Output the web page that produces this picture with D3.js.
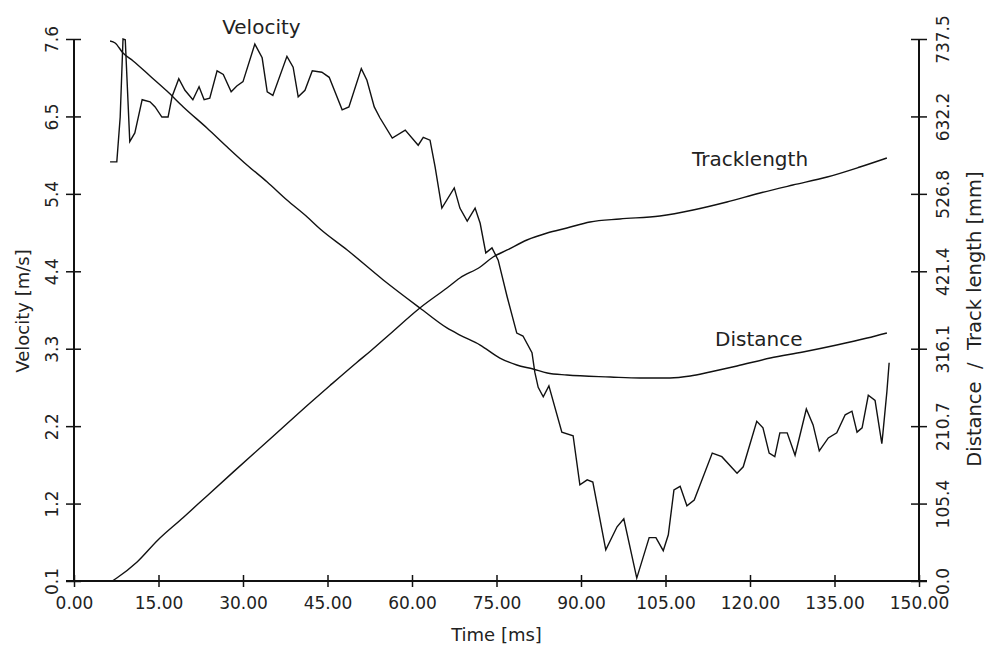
<!DOCTYPE html>
<html>
<head>
<meta charset="utf-8">
<script src="https://cdn.jsdelivr.net/npm/d3@7"></script>
<style>
  body { margin: 0; background: #fff; }
  svg { display: block; }
  text { font-family: "DejaVu Sans", sans-serif; fill: #222; }
</style>
</head>
<body>
<svg id="chart" width="987" height="650"></svg>
<script>
// velocity [m/s]
const velTime = [6.4, 7.6, 8.2, 8.7, 9.1, 9.9, 10.8, 12.1, 13.5, 14.4, 15.6, 16.7, 17.4, 18.6, 19.7, 21.1, 22.2, 23.1, 24.1, 25.4, 26.5, 27.9, 28.9, 30.0, 32.1, 33.4, 34.3, 35.3, 37.8, 38.9, 39.8, 41.0, 42.3, 44.0, 45.3, 47.6, 48.8, 51.0, 52.0, 53.3, 54.3, 56.5, 58.8, 61.1, 62.0, 63.2, 64.1, 65.3, 67.5, 68.5, 69.8, 71.2, 72.1, 73.1, 74.2, 75.3, 76.9, 78.6, 79.7, 81.3, 81.8, 82.4, 83.3, 84.3, 86.6, 88.6, 89.8, 91.1, 92.1, 94.4, 96.4, 97.6, 99.9, 102.1, 103.3, 104.6, 105.5, 106.5, 107.6, 108.8, 110.1, 113.3, 115.0, 117.7, 118.8, 121.2, 122.3, 123.4, 124.4, 125.3, 126.6, 128.0, 130.0, 131.2, 132.3, 133.9, 135.4, 136.9, 138.1, 139.0, 139.9, 141.0, 142.2, 143.4, 143.6, 144.3, 144.7];
const velocity = [5.90, 5.90, 6.52, 7.60, 7.59, 6.18, 6.30, 6.76, 6.73, 6.66, 6.52, 6.52, 6.80, 7.05, 6.89, 6.76, 6.94, 6.76, 6.78, 7.16, 7.11, 6.87, 6.95, 7.01, 7.53, 7.34, 6.87, 6.82, 7.36, 7.21, 6.80, 6.89, 7.16, 7.14, 7.07, 6.62, 6.66, 7.19, 7.03, 6.66, 6.51, 6.23, 6.34, 6.13, 6.24, 6.20, 5.83, 5.26, 5.54, 5.26, 5.08, 5.26, 5.05, 4.64, 4.71, 4.54, 4.03, 3.53, 3.49, 3.26, 2.99, 2.78, 2.65, 2.80, 2.16, 2.11, 1.43, 1.50, 1.47, 0.53, 0.85, 0.96, 0.14, 0.70, 0.70, 0.52, 0.74, 1.36, 1.41, 1.14, 1.22, 1.87, 1.82, 1.59, 1.68, 2.31, 2.22, 1.87, 1.82, 2.15, 2.15, 1.84, 2.48, 2.26, 1.90, 2.08, 2.15, 2.40, 2.45, 2.16, 2.22, 2.67, 2.60, 2.00, 2.15, 2.72, 3.12];

// distance [mm]
const distTime = [6.4, 7.3, 8.7, 10.5, 13.5, 16.5, 19.4, 23.6, 27.2, 30.7, 34.3, 37.8, 41.4, 43.7, 48.5, 54.9, 61.4, 66.2, 68.5, 72.1, 75.6, 78.6, 81.5, 84.0, 87.5, 95.2, 100.5, 105.8, 109.4, 112.9, 117.7, 123.6, 129.4, 135.4, 140.8, 144.3];
const distance = [734.8, 732.1, 718.4, 707.6, 687.2, 666.7, 645.0, 616.4, 590.5, 566.1, 542.9, 518.4, 495.3, 479.0, 450.4, 409.6, 371.5, 344.3, 334.7, 321.1, 303.4, 293.9, 288.5, 283.0, 280.3, 277.6, 276.2, 276.2, 278.9, 284.4, 292.5, 303.4, 311.6, 321.1, 330.6, 337.5];

// track length [mm]
const trackTime = [6.8, 7.6, 11.2, 14.9, 19.4, 23.6, 28.2, 34.8, 41.9, 45.4, 50.2, 52.6, 56.1, 61.4, 66.2, 68.5, 72.1, 74.4, 76.9, 80.4, 84.0, 87.5, 91.6, 96.9, 104.0, 109.9, 115.9, 121.8, 127.6, 133.7, 139.5, 144.3];
const trackLength = [0.0, 4.1, 25.9, 55.8, 86.4, 115.8, 147.8, 193.1, 242.2, 265.7, 297.4, 312.7, 336.2, 371.5, 398.7, 412.3, 427.3, 440.9, 450.4, 464.0, 473.5, 480.3, 488.5, 492.6, 496.7, 504.8, 515.7, 528.0, 538.8, 549.7, 563.3, 575.6];

const timeTicks = [0, 15, 30, 45, 60, 75, 90, 105, 120, 135, 150];
const velTickLabels = ["0.1", "1.2", "2.2", "3.3", "4.4", "5.4", "6.5", "7.6"];
const distTickLabels = ["0.0", "105.4", "210.7", "316.1", "421.4", "526.8", "632.2", "737.5"];

const margin = { top: 39, right: 68, bottom: 69, left: 74 };
const width = 987, height = 650;
const svg = d3.select("#chart");

const x = d3.scaleLinear().domain([0, 150]).range([margin.left, width - margin.right]);
const yV = d3.scaleLinear().domain([0.1, 7.6]).range([height - margin.bottom, margin.top]);
const yD = d3.scaleLinear().domain([0, 737.5]).range([height - margin.bottom, margin.top]);

// ticks are evenly spaced, 7 steps on both y axes
const velTicks = velTickLabels.map((d, i) => 0.1 + i * 7.5 / 7);
const distTicks = distTickLabels.map((d, i) => i * 737.5 / 7);

// x axis
const xAxis = svg.append("g")
  .attr("transform", `translate(0,${yV.range()[0]})`)
  .call(d3.axisBottom(x).tickValues(timeTicks).tickFormat(d3.format(".2f")).tickSizeOuter(0).tickSize(6));
xAxis.select(".domain").remove();
xAxis.append("line")
  .attr("x1", x(0) - 8).attr("x2", x(150) + 8)
  .attr("stroke", "#111").attr("stroke-width", 2);
xAxis.selectAll(".tick line").attr("y1", -6).attr("y2", 6).attr("stroke", "#111").attr("stroke-width", 1.5);
xAxis.selectAll(".tick text").attr("y", 16).attr("font-size", 17).attr("font-family", "DejaVu Sans").attr("fill", "#222");

// left axis
const leftAxis = svg.append("g")
  .attr("transform", `translate(${x(0)},0)`)
  .call(d3.axisLeft(yV).tickValues(velTicks).tickFormat((d, i) => velTickLabels[i]).tickSizeOuter(0));
leftAxis.select(".domain").remove();
leftAxis.append("line")
  .attr("y1", yV(7.6)).attr("y2", yV(0.1))
  .attr("stroke", "#111").attr("stroke-width", 2);
leftAxis.selectAll(".tick line").attr("x1", -8).attr("x2", 7).attr("stroke", "#111").attr("stroke-width", 1.5);
leftAxis.selectAll(".tick text")
  .attr("x", null).attr("dy", null)
  .attr("transform", "translate(-22,0) rotate(-90)")
  .attr("text-anchor", "middle")
  .attr("dominant-baseline", "central")
  .attr("font-size", 17).attr("font-family", "DejaVu Sans").attr("fill", "#222");

// right axis
const rightAxis = svg.append("g")
  .attr("transform", `translate(${x(150)},0)`)
  .call(d3.axisRight(yD).tickValues(distTicks).tickFormat((d, i) => distTickLabels[i]).tickSizeOuter(0));
rightAxis.select(".domain").remove();
rightAxis.append("line")
  .attr("y1", yD(737.5)).attr("y2", yD(0))
  .attr("stroke", "#111").attr("stroke-width", 2);
rightAxis.selectAll(".tick line").attr("x1", -8).attr("x2", 8).attr("stroke", "#111").attr("stroke-width", 1.5);
rightAxis.selectAll(".tick text")
  .attr("x", null).attr("dy", null)
  .attr("transform", "translate(24,0) rotate(-90)")
  .attr("text-anchor", "middle")
  .attr("dominant-baseline", "central")
  .attr("font-size", 17).attr("font-family", "DejaVu Sans").attr("fill", "#222");

// axis titles
svg.append("text")
  .attr("x", x(75)).attr("y", 641)
  .attr("text-anchor", "middle").attr("font-size", 18)
  .text("Time [ms]");
svg.append("text")
  .attr("transform", `translate(22,311) rotate(-90)`)
  .attr("text-anchor", "middle").attr("dominant-baseline", "central").attr("font-size", 18)
  .text("Velocity [m/s]");
svg.append("text")
  .attr("transform", `translate(974,319) rotate(-90)`)
  .attr("text-anchor", "middle").attr("dominant-baseline", "central").attr("font-size", 19.5)
  .attr("xml:space", "preserve")
  .text("Distance  /  Track length [mm]");

// series
const plot = svg.append("g").attr("fill", "none").attr("stroke", "#111").attr("stroke-width", 1.4);

plot.append("path")
  .attr("d", d3.line().x((d, i) => x(velTime[i])).y(d => yV(d))(velocity));
plot.append("path")
  .attr("d", d3.line().x((d, i) => x(distTime[i])).y(d => yD(d)).curve(d3.curveMonotoneX)(distance));
plot.append("path")
  .attr("d", d3.line().x((d, i) => x(trackTime[i])).y(d => yD(d)).curve(d3.curveMonotoneX)(trackLength));

// series labels
svg.append("text").attr("x", x(26.3)).attr("y", yV(7.67)).attr("font-size", 20).text("Velocity");
svg.append("text").attr("x", x(109.7)).attr("y", yD(564.7)).attr("font-size", 20).text("Tracklength");
svg.append("text").attr("x", x(113.8)).attr("y", yD(319.8)).attr("font-size", 20).text("Distance");
</script>
</body>
</html>
